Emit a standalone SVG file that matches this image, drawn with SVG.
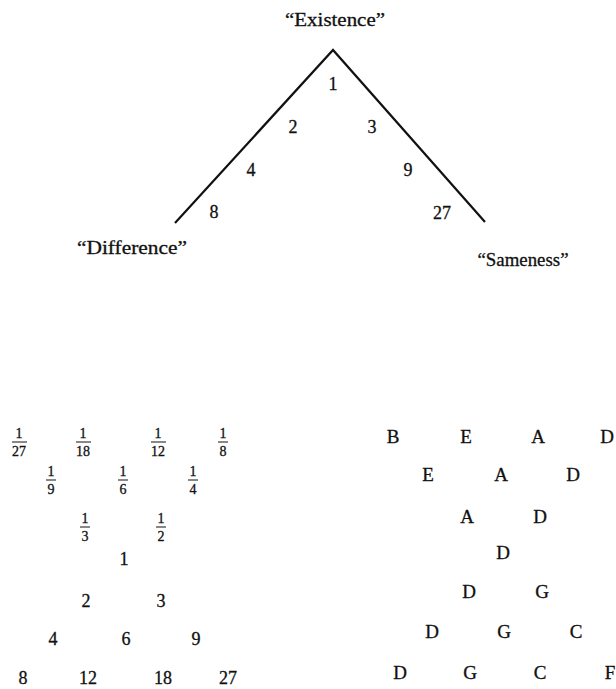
<svg xmlns="http://www.w3.org/2000/svg" width="616" height="689" viewBox="0 0 616 689">
<style>
text{font-family:"Liberation Serif","Times New Roman",serif;fill:#111;stroke:#111;stroke-width:0.3;text-anchor:middle}
.n{font-size:18px}
.f{font-size:14px}
.l{font-size:19px}
.bar{stroke:#111;stroke-width:1}
.edge{stroke:#111;stroke-width:2.2;fill:none}
</style>
<rect width="616" height="689" fill="#fff"/>
<g id="connectors">
<path class="edge" d="M175,223 L333,50 L485,222"/>
</g>
<g id="existence"><text class="n" x="335" y="26" textLength="100" lengthAdjust="spacingAndGlyphs">“Existence”</text></g>
<g id="difference"><text class="n" x="132" y="254" textLength="110" lengthAdjust="spacingAndGlyphs">“Difference”</text></g>
<g id="sameness"><text class="n" x="523" y="266" textLength="91" lengthAdjust="spacingAndGlyphs">“Sameness”</text></g>
<g id="triangle-numbers" class="n">
<text x="333" y="90">1</text>
<text x="293" y="133">2</text>
<text x="372" y="133">3</text>
<text x="251" y="176">4</text>
<text x="408" y="176">9</text>
<text x="214" y="218">8</text>
<text x="442" y="219">27</text>
</g>
<g id="lambda-table">
<g class="f">
<text x="19" y="438">1</text><line class="bar" x1="12" y1="442" x2="27" y2="442"/><text x="19" y="456">27</text>
<text x="83" y="438">1</text><line class="bar" x1="76" y1="442" x2="91" y2="442"/><text x="83" y="456">18</text>
<text x="158" y="438">1</text><line class="bar" x1="151" y1="442" x2="166" y2="442"/><text x="158" y="456">12</text>
<text x="223" y="438">1</text><line class="bar" x1="218" y1="442" x2="228" y2="442"/><text x="223" y="456">8</text>
<text x="51" y="476">1</text><line class="bar" x1="46" y1="480" x2="56" y2="480"/><text x="51" y="494">9</text>
<text x="123" y="476">1</text><line class="bar" x1="118" y1="480" x2="128" y2="480"/><text x="123" y="494">6</text>
<text x="193" y="476">1</text><line class="bar" x1="188" y1="480" x2="198" y2="480"/><text x="193" y="494">4</text>
<text x="85" y="523">1</text><line class="bar" x1="80" y1="527" x2="90" y2="527"/><text x="85" y="541">3</text>
<text x="161" y="523">1</text><line class="bar" x1="156" y1="527" x2="166" y2="527"/><text x="161" y="541">2</text>
</g>
<g class="n">
<text x="124" y="565">1</text>
<text x="86" y="607">2</text>
<text x="161" y="607">3</text>
<text x="53" y="645">4</text>
<text x="126" y="645">6</text>
<text x="196" y="645">9</text>
<text x="23" y="684">8</text>
<text x="88" y="684">12</text>
<text x="163" y="684">18</text>
<text x="228" y="684">27</text>
</g>
</g>
<g id="note-table" class="l">
<text x="393" y="443">B</text>
<text x="466" y="443">E</text>
<text x="538" y="443">A</text>
<text x="607" y="443">D</text>
<text x="428" y="481">E</text>
<text x="501" y="481">A</text>
<text x="573" y="481">D</text>
<text x="467" y="523">A</text>
<text x="540" y="523">D</text>
<text x="503" y="559">D</text>
<text x="469" y="598">D</text>
<text x="542" y="598">G</text>
<text x="432" y="638">D</text>
<text x="504" y="638">G</text>
<text x="576" y="638">C</text>
<text x="400" y="679">D</text>
<text x="470" y="679">G</text>
<text x="540" y="679">C</text>
<text x="610" y="679">F</text>
</g>
</svg>
